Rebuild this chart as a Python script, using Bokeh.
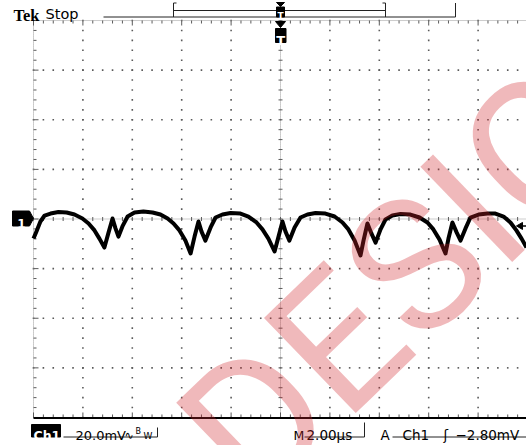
import math
import numpy as np
from bokeh.plotting import figure
from bokeh.models import Range1d, Label
from bokeh.core.properties import value
from bokeh.embed import file_html
from bokeh.resources import INLINE

# ---------------- data ----------------
# Ch1 trace: time in microseconds (0 = trigger point), voltage in mV
t_us = [-10.00, -9.88, -9.72, -9.55, -9.31, -8.99, -8.66, -8.34, -8.02, -7.77,
        -7.53, -7.33, -7.13, -6.96, -6.80, -6.68, -6.56, -6.40, -6.19, -5.91,
        -5.55, -5.18, -4.86, -4.57, -4.33, -4.09, -3.85, -3.64, -3.48, -3.32,
        -3.20, -3.04, -2.83, -2.63, -2.35, -2.02, -1.62, -1.30, -0.97, -0.73,
        -0.49, -0.24, -0.08, 0.08, 0.20, 0.36, 0.57, 0.81, 1.09, 1.42,
        1.82, 2.19, 2.51, 2.75, 3.00, 3.24, 3.36, 3.52, 3.68, 3.85,
        4.05, 4.25, 4.53, 4.86, 5.26, 5.63, 5.95, 6.19, 6.44, 6.68,
        6.80, 6.96, 7.13, 7.29, 7.49, 7.69, 8.02, 8.38, 8.70, 9.03,
        9.31, 9.55, 9.76, 9.96]
v_mv = [-7.9, -5.0, -1.0, 1.4, 2.2, 2.8, 2.6, 1.8, 0.2, -1.8,
        -4.6, -7.9, -11.5, -5.4, 0.2, -3.8, -7.1, -3.0, 1.0, 2.6,
        3.0, 2.6, 1.8, 0.2, -1.8, -4.6, -8.7, -13.9, -7.1, -1.0,
        -5.0, -8.7, -3.4, 0.6, 1.8, 2.4, 2.2, 1.0, -1.4, -4.2,
        -7.9, -13.1, -7.1, -1.0, -5.0, -8.7, -3.4, 0.6, 1.8, 2.4,
        2.2, 1.0, -1.4, -4.2, -8.7, -14.7, -8.7, -1.8, -5.8, -9.5,
        -4.2, -0.2, 1.4, 2.0, 1.8, 0.6, -1.4, -4.2, -8.3, -13.9,
        -7.9, -1.4, -5.4, -8.7, -3.8, 0.6, 1.8, 2.2, 2.2, 1.0,
        -1.4, -4.6, -7.9, -11.5]

# scope settings / readouts
T_PER_DIV = 2.0          # µs/div
V_PER_DIV = 20.0         # mV/div
N_XDIV = 10
N_YDIV = 8
N_MINOR = 5
TRIG_LEVEL_MV = -2.80
ch_label = "Ch1"
ch_scale = "20.0mV"
time_scale = "2.00µs"
trig_source = "Ch1"
trig_level_text = "−2.80mV"
status = "Stop"
watermark = "DESIGN"

# ---------------- layout ----------------
W, H = 526, 445
PX_PER_US = 24.7
PX_PER_MV = 2.481
X0_PX, Y0_PX = 280.0, 218.5   # canvas pixel of (t=0, v=0)


def X(px):
    return (px - X0_PX) / PX_PER_US


def Y(py):
    return (Y0_PX - py) / PX_PER_MV


p = figure(width=W, height=H, output_backend="svg", toolbar_location=None,
           x_range=Range1d(X(0), X(W)), y_range=Range1d(Y(H), Y(0)),
           x_axis_location=None, y_axis_location=None, title=None,
           min_border=0, outline_line_color=None,
           background_fill_color="white", border_fill_color="white")
p.grid.visible = False

t_half = N_XDIV / 2 * T_PER_DIV
v_half = N_YDIV / 2 * V_PER_DIV
x_major = np.linspace(-t_half, t_half, N_XDIV + 1)
y_major = np.linspace(-v_half, v_half, N_YDIV + 1)
x_minor = np.linspace(-t_half, t_half, N_XDIV * N_MINOR + 1)
y_minor = np.linspace(-v_half, v_half, N_YDIV * N_MINOR + 1)

DOT = "#5a5a5a"
GRAY = "#9a9a9a"

# dotted graticule lines (dots at each minor division)
xm_in = [x for x in x_major[1:-1] if abs(x) > 1e-9]
ym_in = [y for y in y_major[1:-1] if abs(y) > 1e-9]
dx = np.repeat(xm_in, len(y_minor))
dy = np.tile(y_minor, len(xm_in))
hx = np.tile(x_minor, len(ym_in))
hy = np.repeat(ym_in, len(x_minor))
p.scatter(np.concatenate([dx, hx]), np.concatenate([dy, hy]), marker="square",
          size=1.6, fill_color=DOT, line_color=None)

# centre cross lines with ticks
p.segment(x0=[0, -t_half], y0=[-v_half, 0], x1=[0, t_half], y1=[v_half, 0],
          line_color=GRAY, line_width=1, line_dash="1 1")
tk = 2.0 / PX_PER_US
p.segment(x0=np.full(len(y_minor), -tk), y0=y_minor, x1=np.full(len(y_minor), tk), y1=y_minor,
          line_color=DOT, line_width=1)
tv = 2.0 / PX_PER_MV
p.segment(x0=x_minor, y0=np.full(len(x_minor), -tv), x1=x_minor, y1=np.full(len(x_minor), tv),
          line_color=DOT, line_width=1)

# border: left and top dotted with inward ticks, bottom solid black
p.segment(x0=[-t_half, -t_half], y0=[-v_half, v_half], x1=[-t_half, t_half], y1=[v_half, v_half],
          line_color=GRAY, line_width=1, line_dash="1 1")
lmaj = 5.0
lmin = 3.0
lens_y = np.where(np.isin(np.round(y_minor, 6), np.round(y_major, 6)), lmaj, lmin)
p.segment(x0=np.full(len(y_minor), -t_half), y0=y_minor,
          x1=-t_half + lens_y / PX_PER_US, y1=y_minor, line_color=DOT, line_width=1)
lens_x = np.where(np.isin(np.round(x_minor, 6), np.round(x_major, 6)), lmaj, lmin)
p.segment(x0=x_minor, y0=np.full(len(x_minor), v_half), x1=x_minor, y1=v_half - lens_x / PX_PER_MV,
          line_color=DOT, line_width=1)
p.segment(x0=x_minor, y0=np.full(len(x_minor), -v_half), x1=x_minor, y1=-v_half + lens_x / PX_PER_MV,
          line_color=DOT, line_width=1)
p.segment(x0=[-t_half], y0=[-v_half - 0.6 / PX_PER_MV], x1=[t_half], y1=[-v_half - 0.6 / PX_PER_MV],
          line_color="black", line_width=2)

# ---------------- trace ----------------
p.line(t_us, v_mv, line_color="black", line_width=4, line_join="round")

# ---------------- markers ----------------
# channel 1 ground marker
p.patch([X(12), X(29), X(33), X(29), X(12)], [Y(210.5), Y(210.5), Y(218), Y(225.5), Y(225.5)],
        fill_color="black", line_color="black")
# trigger position marker (below top edge)
p.patch([X(275), X(285), X(280)], [Y(21), Y(21), Y(27)], fill_color="black", line_color="black")
p.quad(left=[X(275)], right=[X(285.5)], top=[Y(28)], bottom=[Y(42)], fill_color="black", line_color="black")
# trigger level arrow (right edge)
p.segment(x0=[X(519)], y0=[TRIG_LEVEL_MV], x1=[X(526)], y1=[TRIG_LEVEL_MV], line_color="black", line_width=1.5)
p.scatter([X(520)], [TRIG_LEVEL_MV], marker="triangle", angle=math.pi / 2, size=7,
          fill_color="black", line_color="black")

# record view bar at top
p.segment(x0=[X(103), X(455), X(173), X(385), X(173), X(173), X(382)],
          y0=[Y(16.5), Y(2.5), Y(2.5), Y(2.5), Y(10), Y(2.5), Y(2.5)],
          x1=[X(455), X(455), X(173), X(385), X(385), X(176), X(385)],
          y1=[Y(16.5), Y(16.5), Y(16.5), Y(16.5), Y(10), Y(2.5), Y(2.5)],
          line_color="#222222", line_width=1)
p.patch([X(276), X(284), X(280)], [Y(2), Y(2), Y(6)], fill_color="black", line_color="black")
p.quad(left=[X(276)], right=[X(284)], top=[Y(6.5)], bottom=[Y(16.5)], fill_color="black", line_color="black")

# bottom readout boxes / underlines
p.quad(left=[X(31)], right=[X(60)], top=[Y(424)], bottom=[Y(436.5)], fill_color="black", line_color="black")
p.segment(x0=[X(63), X(157), X(304), X(364), X(392)],
          y0=[Y(436.5), Y(427), Y(436.5), Y(422), Y(436.5)],
          x1=[X(157), X(157), X(364), X(364), X(526)],
          y1=[Y(436.5), Y(436.5), Y(436.5), Y(436.5), Y(436.5)],
          line_color="#222222", line_width=1)


def txt(px, py, s, size, font="DejaVu Sans", color="black", style="normal", align="left"):
    p.text(x=[X(px)], y=[Y(py)], text=[s], text_font=value(font), text_font_size=size,
           text_font_style=style, text_color=color, text_align=align, text_baseline="alphabetic")


txt(13, 14.5, "Tek", "16.5px", font="Liberation Serif", style="bold")
txt(45, 13.5, status, "14.5px")
txt(280, 15, "T", "9px", color="white", style="bold", align="center")
txt(280.3, 40, "T", "13px", color="white", style="bold", align="center")
txt(21, 222.5, "1", "12px", color="white", style="bold", align="center")

txt(33, 434.5, ch_label, "12.5px", color="white", style="bold")
txt(75, 434.5, ch_scale, "13px")
txt(124, 434.5, "∿", "11px")
txt(135, 431, "B", "8px")
txt(143, 435, "W", "9px")
txt(293, 434.5, "M", "12.5px")
txt(306, 434.5, time_scale, "13.5px")
txt(380, 434.5, "A", "13.5px")
txt(402, 434.5, trig_source, "13.5px")
txt(443, 434.5, "ʃ", "13.5px")
txt(455, 434.5, trig_level_text, "13.5px")

# watermark (anchored at the middle of its text line)
p.add_layout(Label(x=X(212), y=Y(462), text=watermark, angle=math.radians(44),
                   text_font="Roboto", text_font_size="186px",
                   text_color="#d0242c", text_alpha=0.32,
                   text_align="left", text_baseline="middle"))

open("out.html", "w").write(file_html(p, INLINE))
